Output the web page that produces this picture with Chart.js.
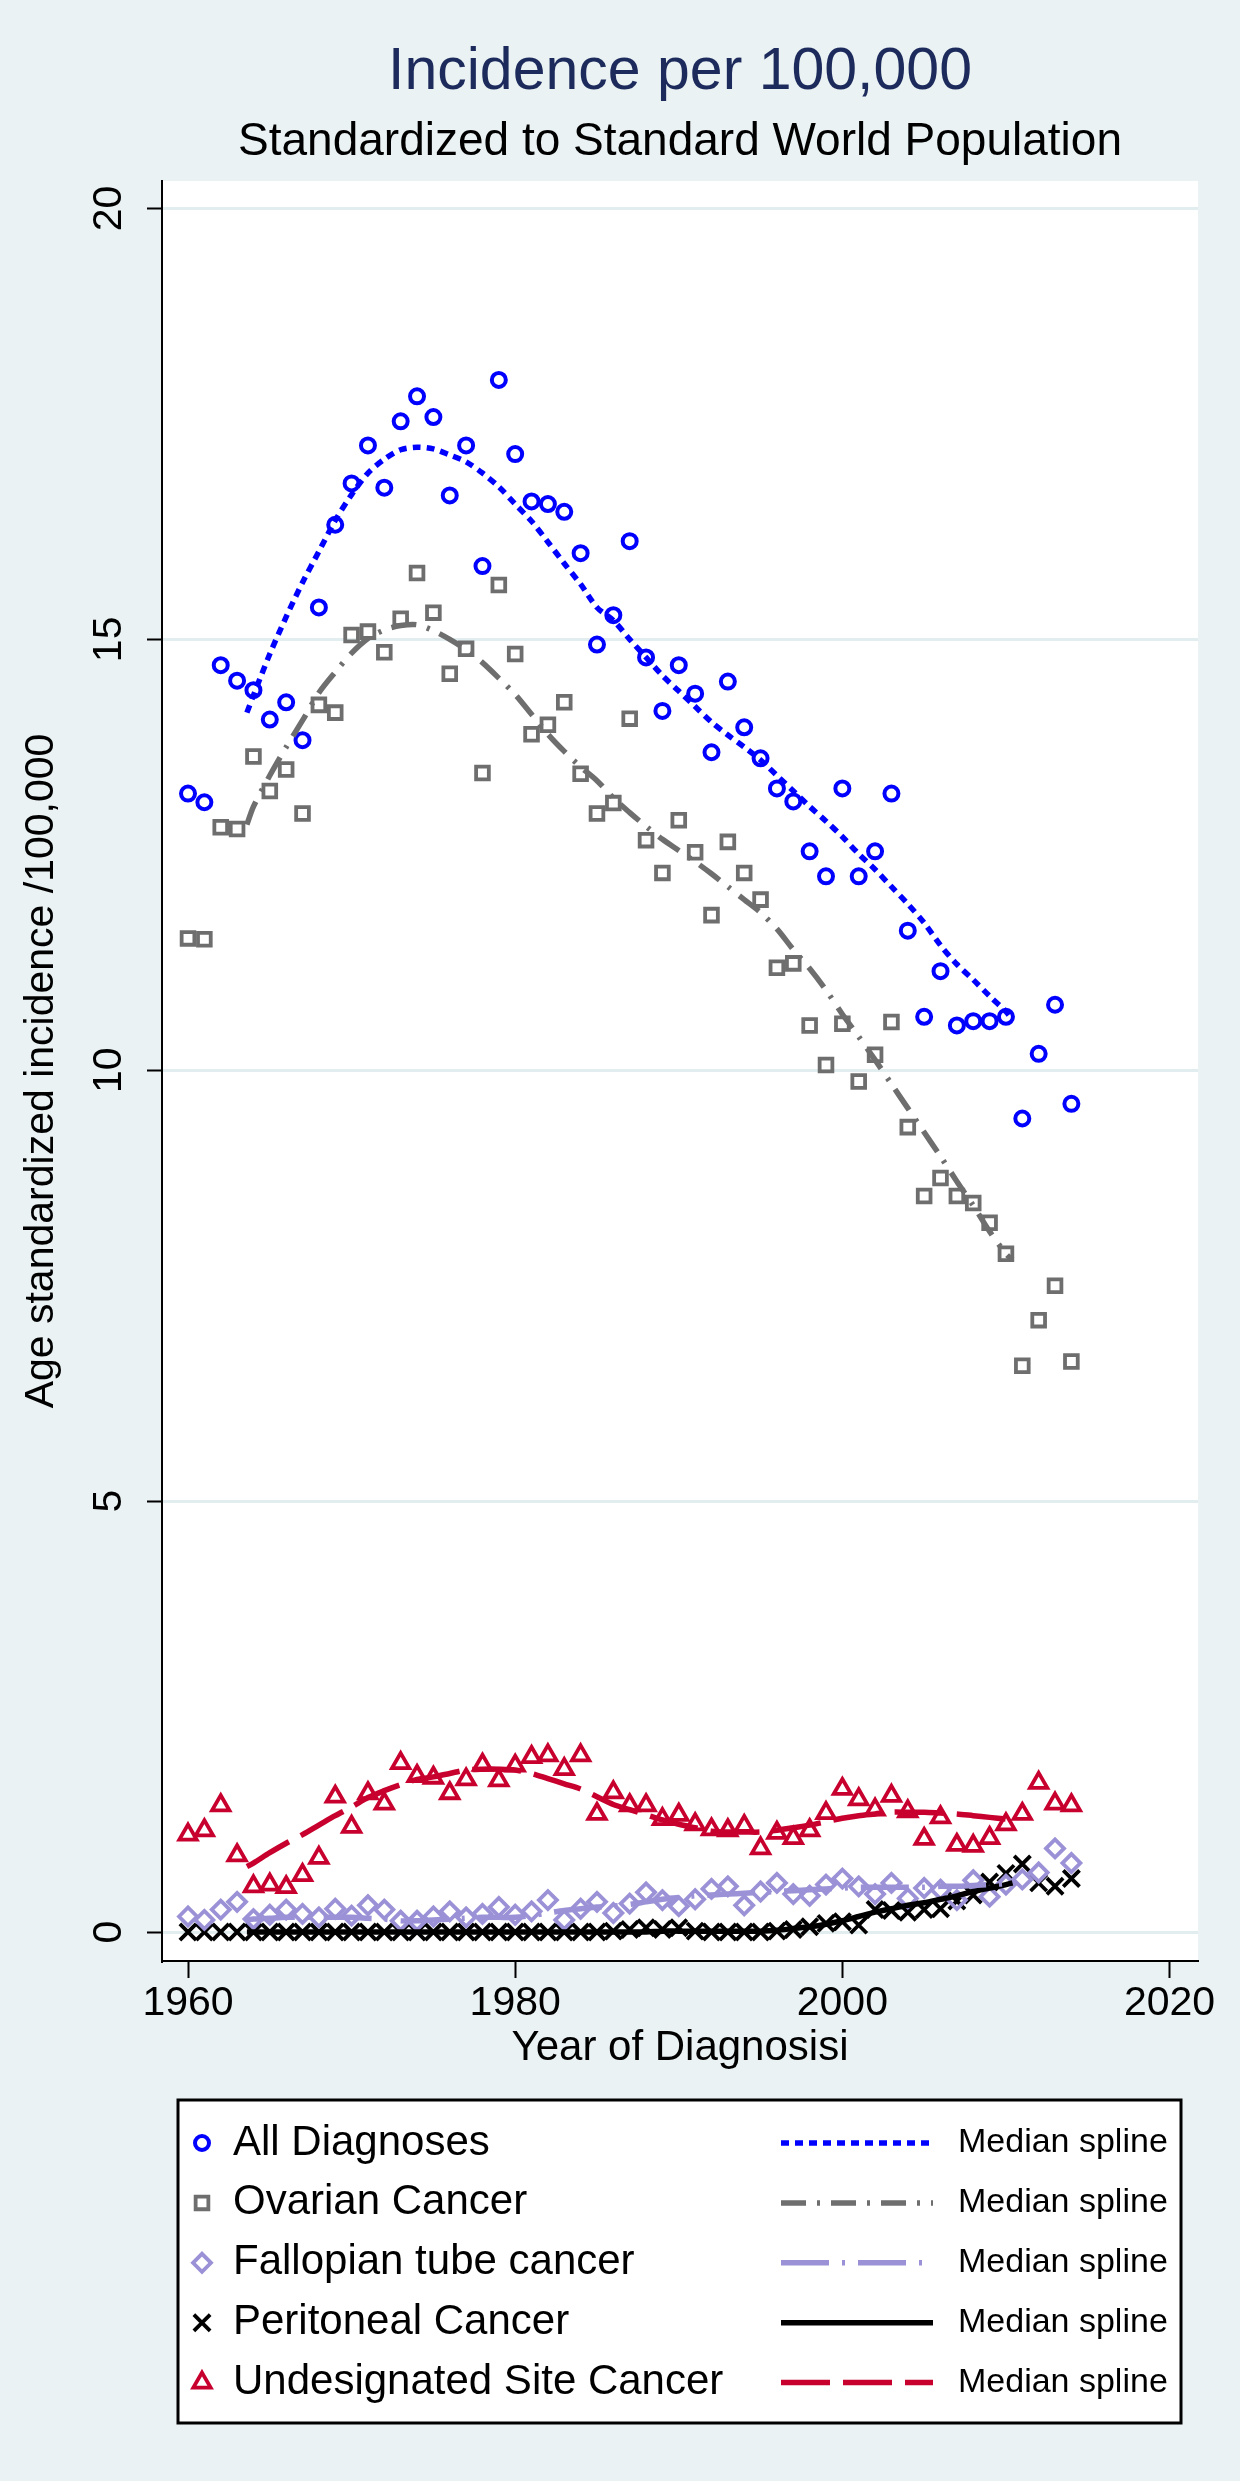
<!DOCTYPE html>
<html>
<head>
<meta charset="utf-8">
<script src="https://cdn.jsdelivr.net/npm/chart.js"></script>
<style>
  html, body { margin: 0; padding: 0; background: #EAF2F3; }
  #wrap { width: 1240px; height: 2481px; }
</style>
</head>
<body>
<div id="wrap"><canvas id="chart" width="1240" height="2481"></canvas></div>
<script>
// Year of diagnosis for the yearly points
var years = [1960, 1961, 1962, 1963, 1964, 1965, 1966, 1967, 1968, 1969,
  1970, 1971, 1972, 1973, 1974, 1975, 1976, 1977, 1978, 1979,
  1980, 1981, 1982, 1983, 1984, 1985, 1986, 1987, 1988, 1989,
  1990, 1991, 1992, 1993, 1994, 1995, 1996, 1997, 1998, 1999,
  2000, 2001, 2002, 2003, 2004, 2005, 2006, 2007, 2008, 2009,
  2010, 2011, 2012, 2013, 2014];

var allDiagnoses = [13.21, 13.11, 14.70, 14.52, 14.41, 14.07, 14.27, 13.83, 15.37, 16.33,
  16.81, 17.25, 16.76, 17.53, 17.82, 17.58, 16.67, 17.25, 15.85, 18.01,
  17.15, 16.60, 16.57, 16.48, 16.00, 14.94, 15.28, 16.14, 14.79, 14.17,
  14.70, 14.37, 13.69, 14.51, 13.98, 13.62, 13.27, 13.12, 12.54, 12.25,
  13.27, 12.25, 12.54, 13.21, 11.62, 10.62, 11.15, 10.52, 10.57, 10.57,
  10.62, 9.44, 10.19, 10.76, 9.61];

var ovarian = [11.53, 11.52, 12.82, 12.80, 13.64, 13.24, 13.49, 12.98, 14.24, 14.15,
  15.05, 15.09, 14.85, 15.24, 15.77, 15.31, 14.60, 14.89, 13.45, 15.63,
  14.83, 13.90, 14.01, 14.27, 13.44, 12.98, 13.10, 14.08, 12.67, 12.29,
  12.90, 12.53, 11.80, 12.65, 12.29, 11.98, 11.19, 11.24, 10.52, 10.06,
  10.54, 9.87, 10.18, 10.56, 9.34, 8.54, 8.75, 8.54, 8.46, 8.23,
  7.87, 6.57, 7.10, 7.50, 6.62];

var fallopian = [0.18, 0.14, 0.26, 0.35, 0.15, 0.20, 0.26, 0.21, 0.17, 0.27,
  0.19, 0.31, 0.26, 0.13, 0.13, 0.18, 0.24, 0.17, 0.21, 0.29,
  0.20, 0.24, 0.37, 0.14, 0.27, 0.35, 0.22, 0.33, 0.46, 0.37,
  0.30, 0.38, 0.50, 0.53, 0.31, 0.47, 0.57, 0.44, 0.42, 0.55,
  0.62, 0.53, 0.44, 0.57, 0.39, 0.51, 0.49, 0.37, 0.60, 0.41,
  0.55, 0.61, 0.69, 0.97, 0.80];

var peritoneal = [0, 0, 0, 0, 0, 0, 0, 0, 0, 0,
  0, 0, 0, 0, 0, 0, 0, 0, 0, 0,
  0, 0, 0, 0, 0, 0, 0.01, 0.03, 0.05, 0.03,
  0.05, 0.01, 0, 0, 0, 0, 0.01, 0.03, 0.06, 0.10,
  0.12, 0.08, 0.26, 0.25, 0.23, 0.26, 0.27, 0.36, 0.43, 0.58,
  0.68, 0.79, 0.57, 0.53, 0.62];

var undesignated = [1.13, 1.18, 1.47, 0.89, 0.53, 0.55, 0.52, 0.66, 0.86, 1.57,
  1.22, 1.61, 1.49, 1.96, 1.81, 1.79, 1.61, 1.77, 1.94, 1.76,
  1.93, 2.03, 2.05, 1.89, 2.05, 1.37, 1.62, 1.47, 1.47, 1.31,
  1.36, 1.25, 1.19, 1.18, 1.23, 0.97, 1.15, 1.09, 1.18, 1.38,
  1.66, 1.54, 1.42, 1.58, 1.40, 1.08, 1.33, 1.01, 1.00, 1.09,
  1.25, 1.37, 1.73, 1.49, 1.47];

var splineYears = [1963.6, 1964, 1965, 1966, 1967, 1968, 1969,
  1970, 1971, 1972, 1973, 1974, 1975, 1976, 1977, 1978, 1979,
  1980, 1981, 1982, 1983, 1984, 1985, 1986, 1987, 1988, 1989,
  1990, 1991, 1992, 1993, 1994, 1995, 1996, 1997, 1998, 1999,
  2000, 2001, 2002, 2003, 2004, 2005, 2006, 2007, 2008, 2009,
  2010, 2010.4];

var allSpline = [14.15, 14.35, 14.83, 15.26, 15.66, 16.02, 16.38,
  16.68, 16.93, 17.09, 17.20, 17.23, 17.21, 17.14, 17.06, 16.93, 16.77,
  16.57, 16.37, 16.13, 15.88, 15.64, 15.37, 15.22, 15.00, 14.79, 14.58,
  14.40, 14.22, 14.04, 13.89, 13.75, 13.60, 13.42, 13.24, 13.06, 12.89,
  12.71, 12.51, 12.33, 12.13, 11.93, 11.71, 11.45, 11.23, 11.05, 10.86,
  10.68, 10.58];

var ovarianSpline = [12.85, 13.06, 13.42, 13.75, 14.06, 14.38, 14.62,
  14.84, 15.01, 15.11, 15.16, 15.17, 15.10, 15.00, 14.88, 14.73, 14.55,
  14.36, 14.13, 13.90, 13.70, 13.52, 13.36, 13.16, 12.99, 12.83, 12.68,
  12.55, 12.42, 12.28, 12.13, 11.98, 11.83, 11.64, 11.40, 11.18, 10.93,
  10.65, 10.39, 10.12, 9.84, 9.56, 9.28, 9.00, 8.71, 8.43, 8.13,
  7.87, 7.80];

var fallopianSpline = [0.14, 0.15, 0.16, 0.17, 0.17, 0.17, 0.17,
  0.17, 0.16, 0.15, 0.13, 0.13, 0.14, 0.15, 0.16, 0.17, 0.17,
  0.17, 0.19, 0.22, 0.25, 0.27, 0.29, 0.30, 0.32, 0.35, 0.38,
  0.40, 0.42, 0.43, 0.44, 0.45, 0.46, 0.47, 0.48, 0.49, 0.50,
  0.51, 0.52, 0.52, 0.52, 0.52, 0.52, 0.53, 0.53, 0.54, 0.55,
  0.56, 0.56];

var peritonealSpline = [0, 0, 0, 0, 0, 0, 0,
  0, 0, 0, 0, 0, 0, 0, 0, 0, 0,
  0, 0, 0, 0, 0, 0, 0, 0, 0, 0.01,
  0.01, 0.01, 0.01, 0.01, 0.01, 0.01, 0.02, 0.04, 0.06, 0.09,
  0.13, 0.18, 0.23, 0.27, 0.31, 0.34, 0.38, 0.42, 0.47, 0.51,
  0.55, 0.57];

var undesignatedSpline = [0.76, 0.80, 0.92, 1.03, 1.13, 1.24, 1.35,
  1.45, 1.56, 1.64, 1.71, 1.77, 1.80, 1.84, 1.88, 1.89, 1.89,
  1.88, 1.84, 1.78, 1.72, 1.66, 1.57, 1.48, 1.42, 1.36, 1.30,
  1.25, 1.21, 1.17, 1.16, 1.16, 1.16, 1.18, 1.21, 1.24, 1.28,
  1.32, 1.35, 1.37, 1.39, 1.39, 1.39, 1.38, 1.37, 1.35, 1.33,
  1.31, 1.30];

var xTicks = [1960, 1980, 2000, 2020];
var yTicks = [0, 5, 10, 15, 20];

var seriesNames = ['All Diagnoses', 'Ovarian Cancer', 'Fallopian tube cancer', 'Peritoneal Cancer', 'Undesignated Site Cancer'];
var splineName = 'Median spline';

var FONT = "'Liberation Sans', Arial, Helvetica, sans-serif";

function pts(xs, ys) {
  return xs.map(function (x, i) { return { x: x, y: ys[i] }; });
}

var blue = '#0000FF', gray = '#6E6E6E', lavender = '#9A91D6', black = '#000000', red = '#C8002E';

function scatterSet(label, values, color, style, radius, width) {
  return {
    type: 'scatter',
    label: label,
    data: pts(years, values),
    pointStyle: style,
    pointRadius: radius,
    pointHoverRadius: radius,
    pointBorderWidth: width,
    borderColor: color,
    backgroundColor: 'rgba(0,0,0,0)',
    pointBackgroundColor: 'rgba(0,0,0,0)',
    showLine: false,
    order: 10
  };
}

function splineSet(values, color, dash) {
  return {
    type: 'line',
    label: splineName,
    data: pts(splineYears, values),
    borderColor: color,
    borderWidth: 5.5,
    borderDash: dash,
    pointRadius: 0,
    tension: 0.3,
    fill: false,
    order: 1
  };
}

var datasets = [
  scatterSet(seriesNames[0], allDiagnoses, blue, 'circle', 7, 4),
  scatterSet(seriesNames[1], ovarian, gray, 'rect', 9, 3.8),
  scatterSet(seriesNames[2], fallopian, lavender, 'rectRot', 9, 3.8),
  scatterSet(seriesNames[3], peritoneal, black, 'crossRot', 11.5, 3.8),
  scatterSet(seriesNames[4], undesignated, red, 'triangle', 10, 3.8),
  splineSet(allSpline, blue, [8, 6]),
  splineSet(ovarianSpline, gray, [25, 11, 3, 11]),
  splineSet(fallopianSpline, lavender, [48, 13, 3, 13]),
  splineSet(peritonealSpline, black, []),
  splineSet(undesignatedSpline, red, [49, 13])
];

// white plot region
var plotBackground = {
  id: 'plotBackground',
  beforeDraw: function (chart) {
    var a = chart.chartArea, ctx = chart.ctx;
    ctx.save();
    ctx.fillStyle = '#FFFFFF';
    ctx.fillRect(a.left, a.top, a.right - a.left, a.bottom - a.top);
    ctx.restore();
  }
};

// two-column legend box below the axis title
var boxLegend = {
  id: 'boxLegend',
  afterDraw: function (chart) {
    var ctx = chart.ctx;
    var left = 178, top = 2100, right = 1181, bottom = 2423;
    var rowY = 2143, rowStep = 59.9;
    ctx.save();
    ctx.fillStyle = '#FFFFFF';
    ctx.fillRect(left, top, right - left, bottom - top);
    ctx.lineWidth = 3;
    ctx.strokeStyle = '#000000';
    ctx.strokeRect(left, top, right - left, bottom - top);
    for (var i = 0; i < 5; i++) {
      var sc = chart.data.datasets[i];
      var ln = chart.data.datasets[i + 5];
      var y = rowY + i * rowStep;
      ctx.strokeStyle = sc.borderColor;
      ctx.fillStyle = 'rgba(0,0,0,0)';
      ctx.lineWidth = sc.pointBorderWidth;
      ctx.setLineDash([]);
      Chart.helpers.drawPoint(ctx, {
        pointStyle: sc.pointStyle, rotation: 0,
        radius: sc.pointRadius, borderWidth: sc.pointBorderWidth
      }, 202, y);
      ctx.fillStyle = '#000000';
      ctx.font = '42px ' + FONT;
      ctx.textBaseline = 'middle';
      ctx.textAlign = 'left';
      ctx.fillText(sc.label, 233, y);
      ctx.beginPath();
      ctx.strokeStyle = ln.borderColor;
      ctx.lineWidth = ln.borderWidth;
      ctx.setLineDash(ln.borderDash);
      ctx.moveTo(781, y);
      ctx.lineTo(933, y);
      ctx.stroke();
      ctx.setLineDash([]);
      ctx.font = '34px ' + FONT;
      ctx.fillText(ln.label, 958, y);
    }
    ctx.restore();
  }
};

var ctx = document.getElementById('chart').getContext('2d');
var chart = new Chart(ctx, {
  type: 'scatter',
  data: { datasets: datasets },
  plugins: [plotBackground, boxLegend],
  options: {
    responsive: false,
    animation: false,
    devicePixelRatio: 1,
    layout: { padding: { top: 0, left: 0, right: 42, bottom: 400 } },
    plugins: {
      legend: { display: false },
      tooltip: { enabled: false },
      title: {
        display: true,
        text: 'Incidence per 100,000',
        color: '#1C2B5C',
        fullSize: false,
        font: { family: FONT, size: 59, weight: 'normal', lineHeight: 1.2 },
        padding: { top: 37, bottom: 0 }
      },
      subtitle: {
        display: true,
        text: 'Standardized to Standard World Population',
        color: '#000000',
        fullSize: false,
        font: { family: FONT, size: 46, weight: 'normal', lineHeight: 1.2 },
        padding: { top: 7, bottom: 11 }
      }
    },
    scales: {
      x: {
        type: 'linear',
        position: 'bottom',
        min: 1958.41,
        max: 2021.74,
        afterBuildTicks: function (scale) {
          scale.ticks = xTicks.map(function (v) { return { value: v }; });
        },
        afterFit: function (scale) { scale.height = 120; },
        grid: {
          drawOnChartArea: false,
          drawTicks: true,
          tickLength: 17,
          tickColor: '#000000',
          tickWidth: 2
        },
        border: { display: true, color: '#000000', width: 2 },
        ticks: {
          autoSkip: false,
          maxRotation: 0,
          padding: 1,
          color: '#000000',
          font: { family: FONT, size: 41, lineHeight: 1.2 },
          callback: function (v) { return String(v); }
        },
        title: {
          display: true,
          text: 'Year of Diagnosisi',
          color: '#000000',
          font: { family: FONT, size: 42, lineHeight: 1.2 },
          padding: { top: 0, bottom: 7 }
        }
      },
      y: {
        type: 'linear',
        position: 'left',
        min: -0.3365,
        max: 20.319,
        afterBuildTicks: function (scale) {
          scale.ticks = yTicks.map(function (v) { return { value: v }; });
        },
        afterFit: function (scale) { scale.width = 162; },
        grid: {
          drawOnChartArea: true,
          color: '#E2EDEF',
          lineWidth: 3,
          drawTicks: true,
          tickLength: 15,
          tickColor: '#000000',
          tickWidth: 2
        },
        border: { display: true, color: '#000000', width: 2 },
        ticks: {
          autoSkip: false,
          minRotation: 90,
          maxRotation: 90,
          crossAlign: 'center',
          padding: 15,
          color: '#000000',
          font: { family: FONT, size: 41, lineHeight: 1.2 },
          callback: function (v) { return String(v); }
        },
        title: {
          display: true,
          text: 'Age standardized incidence /100,000',
          color: '#000000',
          font: { family: FONT, size: 41, lineHeight: 1.2 },
          padding: { top: 17, bottom: 0 }
        }
      }
    }
  }
});
</script>
</body>
</html>
